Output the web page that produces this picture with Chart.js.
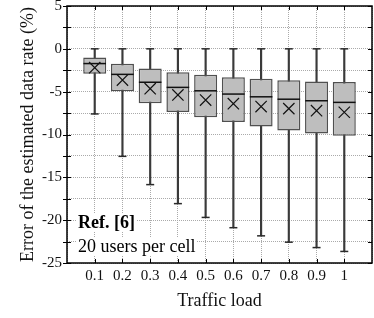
<!DOCTYPE html>
<html>
<head>
<meta charset="utf-8">
<script src="https://cdn.jsdelivr.net/npm/chart.js@4/dist/chart.umd.min.js"></script>
<style>
  html, body { margin: 0; padding: 0; background: #fff; }
  #wrap { width: 374px; height: 318px; }
</style>
</head>
<body>
<div id="wrap"><canvas id="box-chart"></canvas></div>
<script>
'use strict';

// traffic load on the x axis
const loads = [0.1, 0.2, 0.3, 0.4, 0.5, 0.6, 0.7, 0.8, 0.9, 1.0];
// error of the estimated data rate (%)
const whiskerHigh = [0, 0, 0, 0, 0, 0, 0, 0, 0, 0];
const upperQuartile = [-1.0, -1.75, -2.3, -2.72, -3.02, -3.32, -3.5, -3.66, -3.8, -3.88];
const medians = [-1.72, -2.98, -3.9, -4.5, -4.9, -5.28, -5.6, -5.88, -6.06, -6.25];
const means = [-2.2, -3.65, -4.65, -5.38, -5.98, -6.4, -6.74, -6.98, -7.22, -7.4];
const lowerQuartile = [-2.92, -4.95, -6.35, -7.36, -8.0, -8.53, -9.07, -9.52, -9.87, -10.14];
const whiskerLow = [-7.6, -12.55, -15.85, -18.07, -19.68, -20.88, -21.83, -22.57, -23.2, -23.65];
const yTickValues = [5, 2.5, 0, -2.5, -5, -7.5, -10, -12.5, -15, -17.5, -20, -22.5, -25];
const noteLines = ['Ref. [6]', '20 users per cell'];

const serif = '"Liberation Serif", "Times New Roman", serif';

function pairUp(xs, lo, hi) {
    return xs.map((x, i) => ({ x: x, y: [lo[i], hi[i]] }));
}

function points(xs, ys) {
    return xs.map((x, i) => ({ x: x, y: ys[i] }));
}

// frame, inward tick marks and the note in the lower left corner
const framePlugin = {
    id: 'frame',
    afterDatasetsDraw(chart) {
        const ctx = chart.ctx;
        const area = chart.chartArea;
        const xScale = chart.scales.x;
        const yScale = chart.scales.y;

        ctx.save();
        ctx.strokeStyle = '#000';
        ctx.lineWidth = 1;
        ctx.beginPath();
        yTickValues.forEach(v => {
            let py = Math.round(yScale.getPixelForValue(v)) + 0.5;
            ctx.moveTo(area.left - 4, py);
            ctx.lineTo(area.left + 4, py);
            ctx.moveTo(area.right - 4, py);
            ctx.lineTo(area.right, py);
        });
        loads.forEach(v => {
            let px = Math.round(xScale.getPixelForValue(v)) + 0.5;
            ctx.moveTo(px, area.bottom);
            ctx.lineTo(px, area.bottom - 4);
            ctx.moveTo(px, area.top);
            ctx.lineTo(px, area.top + 4);
        });
        ctx.stroke();

        ctx.lineWidth = 1.5;
        ctx.strokeRect(area.left, area.top, area.right - area.left, area.bottom - area.top);

        // note text on a white patch so the grid does not run through it
        let x = area.left + 11;
        let baselines = [area.top + 222, area.top + 246];
        let fonts = ['bold 18px ' + serif, '18px ' + serif];
        ctx.textBaseline = 'alphabetic';
        ctx.textAlign = 'left';
        noteLines.forEach((line, i) => {
            ctx.font = fonts[i];
            let w = ctx.measureText(line).width;
            ctx.fillStyle = '#fff';
            ctx.fillRect(x - 1, baselines[i] - 14, w + 2, 18);
            ctx.fillStyle = '#000';
            ctx.fillText(line, x, baselines[i]);
        });
        ctx.restore();
    }
};

const ctx = document.getElementById('box-chart').getContext('2d');
const boxChart = new Chart(ctx, {
    type: 'bar',
    data: {
        datasets: [{
            label: 'whisker',
            data: pairUp(loads, whiskerLow, whiskerHigh),
            backgroundColor: '#3a3a3a',
            borderWidth: 0,
            barThickness: 1.5,
            grouped: false,
            order: 5
        }, {
            label: 'box',
            data: pairUp(loads, lowerQuartile, upperQuartile),
            backgroundColor: '#bebebe',
            borderColor: '#505050',
            borderWidth: 1.5,
            borderSkipped: false,
            barPercentage: 0.83,
            categoryPercentage: 1,
            grouped: false,
            order: 4
        }, {
            type: 'scatter',
            label: 'caps',
            data: points(loads, whiskerLow).concat(points(loads, whiskerHigh)),
            pointStyle: 'line',
            radius: 4,
            borderWidth: 1.5,
            borderColor: '#2a2a2a',
            order: 3
        }, {
            type: 'scatter',
            label: 'median',
            data: points(loads, medians),
            pointStyle: 'line',
            radius: 11.3,
            borderWidth: 1.5,
            borderColor: '#111',
            order: 2
        }, {
            type: 'scatter',
            label: 'mean',
            data: points(loads, means),
            pointStyle: 'crossRot',
            radius: 8,
            borderWidth: 1.2,
            borderColor: '#111',
            order: 1
        }]
    },
    options: {
        responsive: true,
        maintainAspectRatio: false,
        animation: false,
        events: [],
        layout: { autoPadding: false, padding: { left: 0, right: 2, top: 6, bottom: 0 } },
        plugins: {
            legend: { display: false },
            tooltip: { enabled: false }
        },
        scales: {
            x: {
                type: 'linear',
                min: 0,
                max: 1.1,
                offset: false,
                ticks: {
                    stepSize: 0.1,
                    autoSkip: false,
                    maxRotation: 0,
                    padding: 4,
                    color: '#111',
                    font: { family: serif, size: 15 },
                    callback: v => (v < 0.05 || v > 1.05) ? '' : String(Math.round(v * 10) / 10)
                },
                grid: { color: '#aaaaaa', lineWidth: 1, drawTicks: false, offset: false },
                border: { display: false, dash: [1, 1] },
                title: {
                    display: true,
                    text: 'Traffic load',
                    color: '#111',
                    font: { family: serif, size: 18 },
                    padding: { top: 0, bottom: 6 }
                },
                afterFit: s => { s.height = 55; s.paddingLeft = 0; s.paddingRight = 0; }
            },
            y: {
                min: -25,
                max: 5,
                ticks: {
                    stepSize: 2.5,
                    padding: 5,
                    color: '#111',
                    font: { family: serif, size: 15 },
                    callback: v => (v % 5 === 0) ? String(v) : ''
                },
                grid: { color: '#aaaaaa', lineWidth: 1, drawTicks: false },
                border: { display: false, dash: [1, 1] },
                title: {
                    display: true,
                    text: 'Error of the estimated data rate (%)',
                    color: '#111',
                    font: { family: serif, size: 18 },
                    padding: { top: 17, bottom: 0 }
                },
                afterFit: s => { s.width = 67; s.paddingTop = 0; }
            }
        }
    },
    plugins: [framePlugin]
});
</script>
</body>
</html>
